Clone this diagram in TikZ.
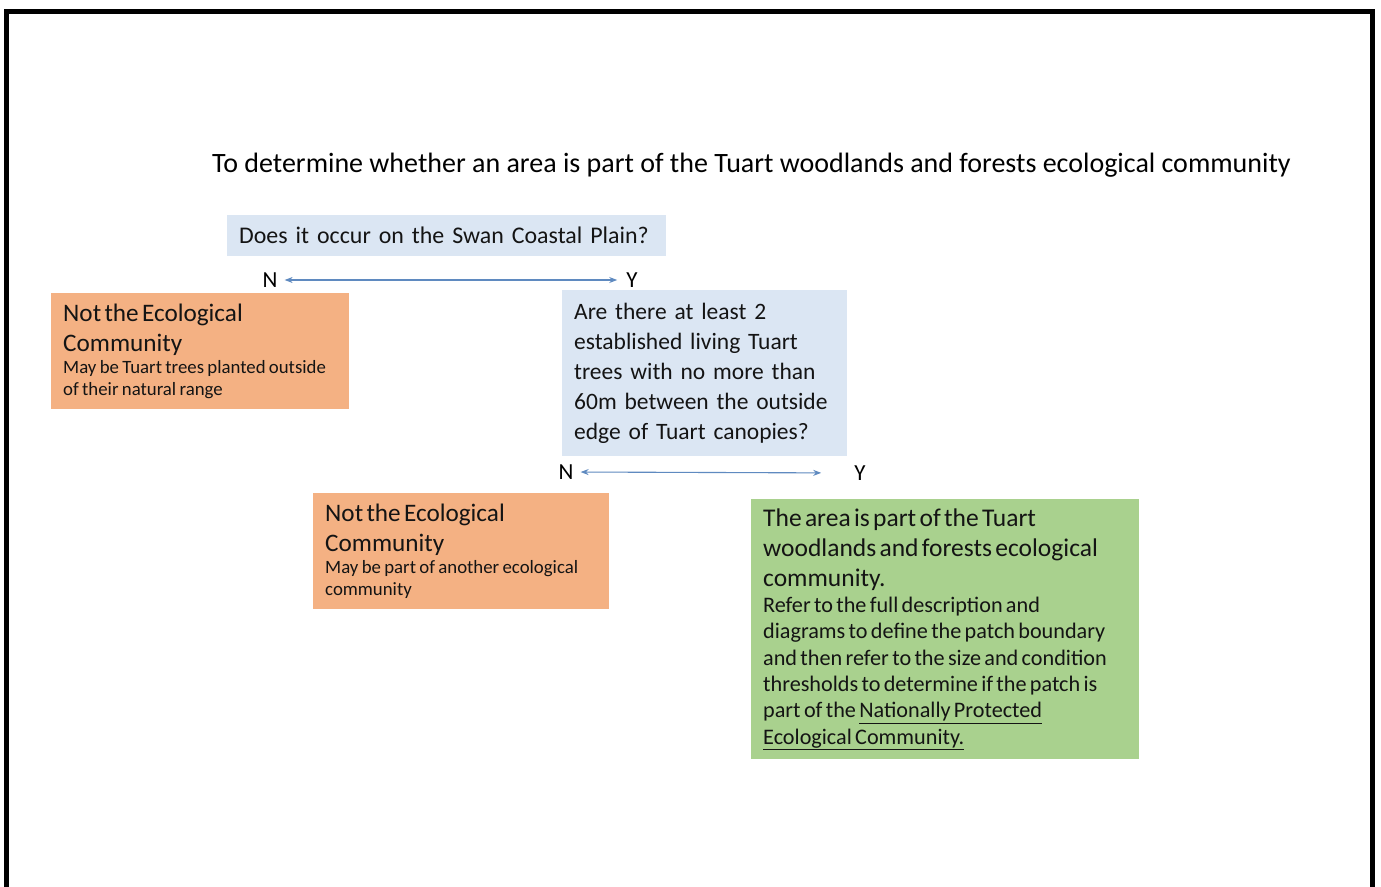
\documentclass[tikz,border=0pt]{standalone}
\usepackage{fontspec}
\setmainfont{Carlito}
\usetikzlibrary{arrows.meta}
\definecolor{qblue}{RGB}{219,230,243}
\definecolor{qorange}{RGB}{244,177,131}
\definecolor{qgreen}{RGB}{169,209,142}
\definecolor{qarrow}{RGB}{95,138,192}
\definecolor{qtext}{RGB}{20,20,20}
\begin{document}
\begin{tikzpicture}[x=1pt,y=-1pt,
  box/.style={anchor=north west,inner xsep=12pt,inner ysep=0pt,align=left,text=qtext},
  yn/.style={inner sep=0pt,font=\fontsize{23}{23}\selectfont,text=black},
  biarrow/.style={qarrow,line width=1.1pt,{Stealth[length=8pt,width=6pt]}-{Stealth[length=8pt,width=6pt]}}]
\useasboundingbox (0,0) rectangle (1381,886);
\fill[white] (0,0) rectangle (1381,886);
% frame
\draw[black,line width=5pt] (6.5,900) -- (6.5,11) -- (1372.5,11) -- (1372.5,900);
% title
\node[anchor=base west,inner sep=0pt,font=\fontsize{28}{28}\selectfont,text=black] (title) at (212,172)
  {To determine whether an area is part of the Tuart woodlands and forests ecological community};
% question 1
\node[box,fill=qblue,minimum width=439pt,minimum height=41pt,text width=415pt,
  font=\fontsize{23.9}{26}\selectfont] (q1) at (227,215) {Does it occur on the Swan Coastal Plain?};
\node[yn] (n1) at (270,280) {N};
\node[yn] (y1) at (632,280) {Y};
\draw[biarrow,shorten <=7pt,shorten >=9pt] (n1.east) -- (y1.west);
% outcome 1
\node[box,fill=qorange,minimum width=298pt,minimum height=116pt,text width=274pt] (o1) at (51,293)
  {{\fontsize{25.2}{30}\selectfont Not the Ecological\\Community\par}%
   {\fontsize{18.8}{22}\selectfont May be Tuart trees planted outside\\of their natural range\par}};
% question 2
\node[box,fill=qblue,minimum width=285pt,minimum height=166pt,text width=261pt,
  font=\fontsize{23.5}{30}\selectfont] (q2) at (562,290)
  {Are there at least 2\\established living Tuart\\trees with no more than\\60m between the outside\\edge of Tuart canopies?};
\node[yn] (n2) at (566,472) {N};
\node[yn] (y2) at (860,473) {Y};
\draw[biarrow,shorten <=7pt,shorten >=33pt] (n2.east) -- (y2.west);
% outcome 2
\node[box,fill=qorange,minimum width=296pt,minimum height=116pt,text width=272pt] (o2) at (313,493)
  {{\fontsize{25.2}{30}\selectfont Not the Ecological\\Community\par}%
   {\fontsize{18.8}{22}\selectfont May be part of another ecological\\community\par}};
% outcome 3
\node[box,fill=qgreen,minimum width=388pt,minimum height=260pt,text width=364pt] (o3) at (751,499)
  {{\fontsize{25.5}{30}\selectfont The area is part of the Tuart\\woodlands and forests ecological\\community.\par}%
   {\fontsize{22.2}{26.3}\selectfont Refer to the full description and\\diagrams to define the patch boundary\\and then refer to the size and condition\\thresholds to determine if the patch is\\part of the \underline{Nationally Protected}\\\underline{Ecological Community.}\par}};
\end{tikzpicture}
\end{document}
